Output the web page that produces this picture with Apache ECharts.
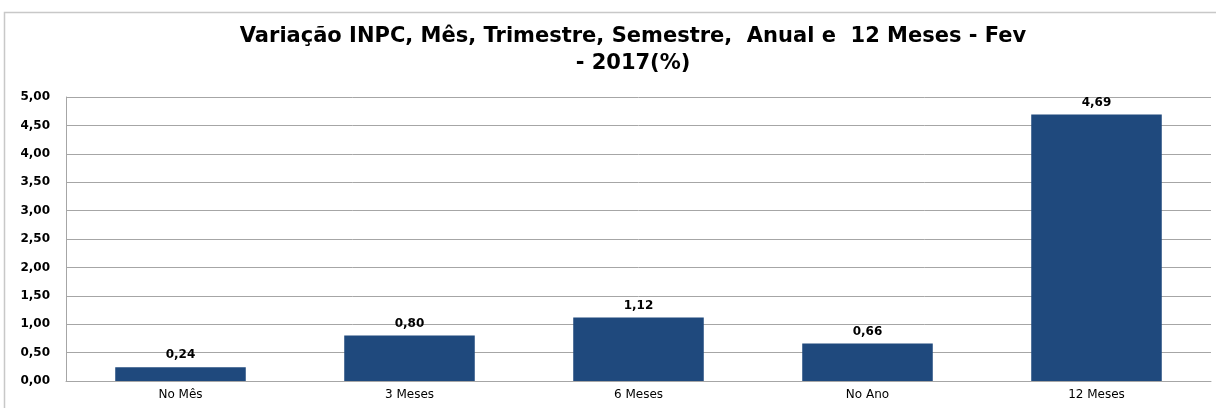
<!DOCTYPE html>
<html><head><meta charset="utf-8">
<script src="https://cdn.jsdelivr.net/npm/echarts@6/dist/echarts.min.js"></script>
<style>html,body{margin:0;padding:0;background:#fff}#c{width:1216px;height:408px}</style>
</head><body><div id="c"></div>
<script>
const titleLines = ['Variação INPC, Mês, Trimestre, Semestre,  Anual e  12 Meses - Fev', '- 2017(%)'];
const categories = ['No Mês', '3 Meses', '6 Meses', 'No Ano', '12 Meses'];
const values = [0.24, 0.80, 1.12, 0.66, 4.69];
const fmt = v => v.toFixed(2).replace('.', ',');
const chart = echarts.init(document.getElementById('c'), null, {renderer: 'canvas'});
chart.setOption({
  animation: false,
  backgroundColor: '#fff',
  title: {
    text: titleLines.join('\n'),
    left: 628, top: 18, textAlign: 'center',
    textStyle: {fontFamily: 'DejaVu Sans', fontWeight: 'bold', fontSize: 21, lineHeight: 27, color: '#000'}
  },
  graphic: [{type: 'rect', shape: {x: 4.5, y: 12.5, width: 1230, height: 420}, style: {fill: 'none', stroke: '#c8c8c8', lineWidth: 1.5}, silent: true}],
  grid: {left: 66, right: 5, top: 97, bottom: 27},
  xAxis: {
    type: 'category', data: categories,
    axisLine: {lineStyle: {color: '#a6a6a6'}},
    axisTick: {show: false},
    axisLabel: {fontFamily: 'DejaVu Sans', fontSize: 12, color: '#000', margin: 8}
  },
  yAxis: {
    type: 'value', min: 0, max: 5, interval: 0.5,
    axisLine: {show: true, lineStyle: {color: '#a6a6a6'}},
    axisTick: {show: false},
    splitLine: {lineStyle: {color: '#a6a6a6'}},
    axisLabel: {fontFamily: 'DejaVu Sans', fontWeight: 'bold', fontSize: 12, color: '#000', margin: 16, formatter: fmt}
  },
  series: [{
    type: 'bar', data: values, barWidth: '57%',
    itemStyle: {color: '#1F497D'},
    label: {show: true, position: 'top', distance: 6, fontFamily: 'DejaVu Sans', fontWeight: 'bold', fontSize: 12, color: '#000', formatter: p => fmt(p.value)}
  }]
});
</script></body></html>
